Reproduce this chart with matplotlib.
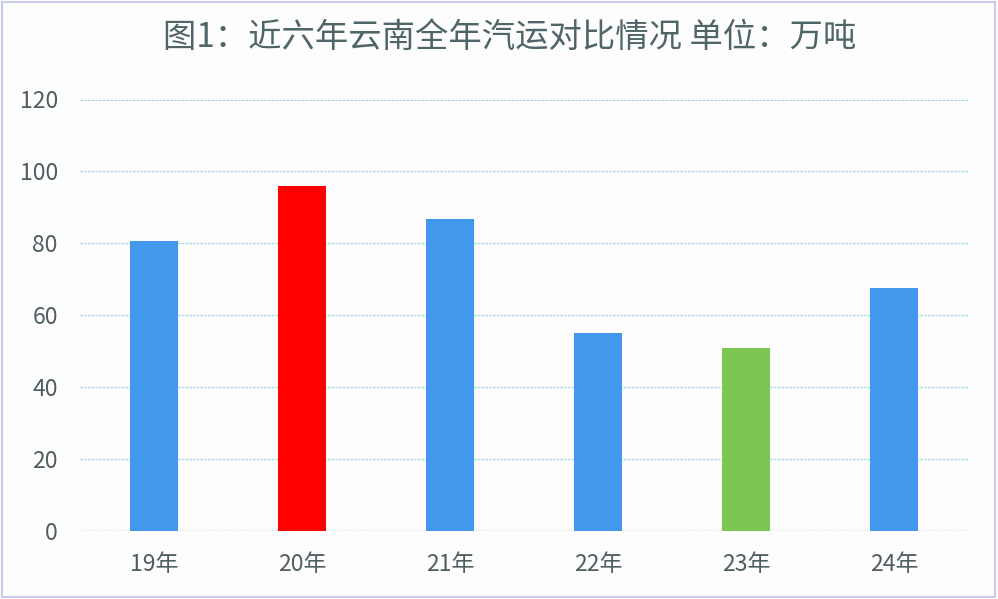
import matplotlib
matplotlib.use('Agg')
import matplotlib.pyplot as plt
from matplotlib.patches import Rectangle

plt.rcParams['font.family'] = ['Noto Sans CJK SC', 'DejaVu Sans']
plt.rcParams['font.weight'] = 'light'

# data
years = ['19年', '20年', '21年', '22年', '23年', '24年']
volumes = [80.6, 96.0, 86.8, 55.0, 50.9, 67.5]
bar_colors = ['#4198EC', '#FF0000', '#4198EC', '#4198EC', '#7CC751', '#4198EC']
yticks = [0, 20, 40, 60, 80, 100, 120]

text_color = '#4E5D60'

fig = plt.figure(figsize=(9.98, 5.99), dpi=100, facecolor='#FDFDFD')
ax = fig.add_axes([80 / 998, 1 - 531 / 599, 888 / 998, 431.5 / 599])
ax.set_facecolor('#FDFDFD')

x = range(len(years))
ax.bar(x, volumes, width=0.32, color=bar_colors, zorder=3)

ax.set_xlim(-0.5, len(years) - 0.5)
ax.set_ylim(0, 120)
ax.set_yticks(yticks)
ax.set_xticks(list(x))
ax.set_xticklabels(years)

ax.grid(axis='y', color='#9FDAE3', linestyle=(0, (2, 1)), linewidth=0.9, zorder=0)
ax.axhline(0, color='#9FDAE3', linestyle=(0, (2, 1)), linewidth=0.9, zorder=1)
for s in ax.spines.values():
    s.set_visible(False)
ax.tick_params(axis='both', length=0, labelsize=16.5, colors=text_color)
ax.tick_params(axis='y', pad=16)
ax.tick_params(axis='x', pad=16)

fig.text(0.511, 0.938, '图1：近六年云南全年汽运对比情况 单位：万吨',
         ha='center', va='center', fontsize=24, color='#4F6568')

# thin frame around the whole picture
fig.patches.append(Rectangle((0.002, 0.004), 0.995, 0.993, transform=fig.transFigure,
                             fill=False, edgecolor='#C8CBEA', linewidth=1.5))

fig.savefig('out.png', dpi=100, facecolor=fig.get_facecolor())
